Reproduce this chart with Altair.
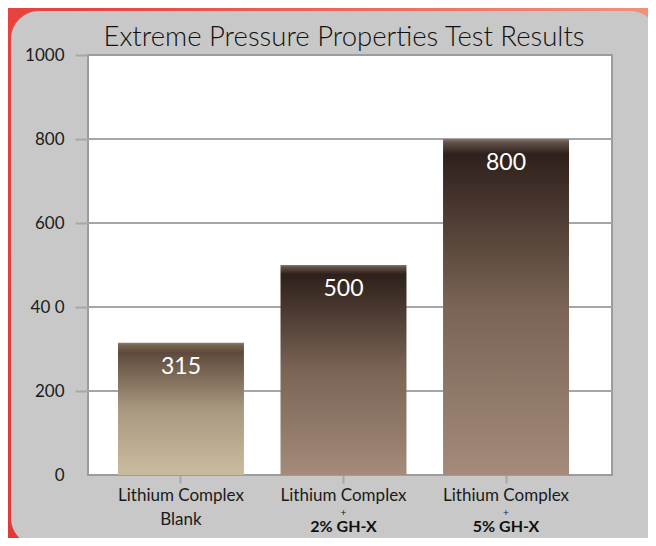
import altair as alt
import pandas as pd

# ---- data ----
categories = ["Lithium Complex Blank", "Lithium Complex + 2% GH-X", "Lithium Complex + 5% GH-X"]
values = [315, 500, 800]
line1 = ["Lithium Complex", "Lithium Complex", "Lithium Complex"]
line2 = ["Blank", "+", "+"]
line3 = ["", "2% GH-X", "5% GH-X"]
grid_values = [200, 400, 600, 800]
y_ticks = [0, 200, 400, 600, 800, 1000]
title_text = "Extreme Pressure Properties Test Results"

# ---- layout / style ----
W, H = 524, 420
PAD = {"left": 80, "top": 47, "right": 36, "bottom": 63}
FONT = "Lato"
GRID = "#a6a6a6"
TXT = "#1a1a1a"

df = pd.DataFrame({"cat": categories, "value": values, "l1": line1, "l2": line2, "l3": line3})
grid_df = pd.DataFrame({"value": grid_values})
one = pd.DataFrame({"a": [0]})

xscale = alt.Scale(domain=categories, range=[30, 481], paddingInner=0.225, paddingOuter=0)
yscale = alt.Scale(domain=[0, 1000], nice=False)

x_enc = alt.X("cat:N", scale=xscale, sort=categories,
              axis=alt.Axis(title=None, labels=False, domain=False, grid=False,
                            ticks=True, tickSize=8, tickWidth=2, tickColor=GRID, zindex=1))
y_enc = alt.Y("value:Q", scale=yscale,
              axis=alt.Axis(title=None, values=y_ticks, format="d",
                            labelExpr="datum.value == 400 ? '40 0' : datum.label",
                            domain=False, grid=False, tickSize=13, tickWidth=2,
                            tickColor={"condition": {"test": "datum.value === 0", "value": "transparent"},
                                       "value": GRID},
                            labelFont=FONT, labelFontSize=17, labelColor=TXT,
                            labelPadding=11, zindex=1))

def grad(stops, x1=0, y1=0, x2=0, y2=1):
    return alt.LinearGradient(gradient="linear", x1=x1, y1=y1, x2=x2, y2=y2,
                              stops=[alt.GradientStop(offset=o, color=c) for o, c in stops])

red_bg = alt.Chart(one).mark_rect(
    color=grad([(0, "#e23838"), (0.55, "#e8443f"), (1, "#f4907a")], x1=0, y1=1, x2=1, y2=0)
).encode(x=alt.value(-PAD["left"]), x2=alt.value(W + PAD["right"]),
         y=alt.value(-PAD["top"]), y2=alt.value(H + PAD["bottom"]))

panel = alt.Chart(one).mark_rect(color="#c8c8c8", cornerRadius=28).encode(
    x=alt.value(-PAD["left"] + 3), x2=alt.value(W + PAD["right"] + 10),
    y=alt.value(-PAD["top"] + 3), y2=alt.value(H + PAD["bottom"] + 8))

plot_bg = alt.Chart(one).mark_rect(color="white", stroke="#9c9c9c", strokeWidth=2).encode(
    x=alt.value(0), x2=alt.value(W), y=alt.value(0), y2=alt.value(H))

grid = alt.Chart(grid_df).mark_rule(color=GRID, strokeWidth=2).encode(y=y_enc)

bar1_grad = grad([(0, "#8e7e70"), (0.02, "#76634f"), (0.075, "#5e4a3c"),
                  (0.5, "#a89880"), (1, "#cbbb9e")])
bar23_grad = grad([(0, "#85756b"), (0.012, "#5e4e45"), (0.045, "#2e201b"),
                   (0.5, "#7a6455"), (1, "#a48b7b")])

bars1 = alt.Chart(df).transform_filter(alt.datum.cat == categories[0]).mark_bar(
    color=bar1_grad).encode(x=x_enc, y=y_enc)
bars23 = alt.Chart(df).transform_filter(alt.datum.cat != categories[0]).mark_bar(
    color=bar23_grad).encode(x=x_enc, y=y_enc)

vals = alt.Chart(df).mark_text(color="white", font=FONT, fontSize=23, baseline="alphabetic",
                               dy=31).encode(x=x_enc, y=y_enc, text=alt.Text("value:Q"))

lab1 = alt.Chart(df).mark_text(color=TXT, font=FONT, fontSize=17, baseline="middle").encode(
    x=x_enc, y=alt.value(H + 21), text="l1:N")
lab2a = alt.Chart(df).transform_filter(alt.datum.l2 == "Blank").mark_text(
    color=TXT, font=FONT, fontSize=17, baseline="middle").encode(
    x=x_enc, y=alt.value(H + 45), text="l2:N")
lab2b = alt.Chart(df).transform_filter(alt.datum.l2 == "+").mark_text(
    color=TXT, font=FONT, fontSize=10, baseline="middle").encode(
    x=x_enc, y=alt.value(H + 37.5), text="l2:N")
lab3 = alt.Chart(df).mark_text(color="#111111", font=FONT, fontSize=16, fontWeight="bold",
                               baseline="middle").encode(
    x=x_enc, y=alt.value(H + 52), text="l3:N")

title = alt.Chart(one).mark_text(text=title_text, font=FONT, fontSize=27.5, fontWeight=300,
                                 color="#111111", baseline="alphabetic").encode(
    x=alt.value(W / 2 - 6), y=alt.value(-9))

chart = alt.layer(red_bg, panel, plot_bg, grid, bars1, bars23, vals,
                  lab1, lab2a, lab2b, lab3, title).properties(
    width=W, height=H,
    autosize=alt.AutoSizeParams(type="none"),
    padding=PAD,
    background="white",
).configure_view(stroke=None)

chart.save("out.html", embed_options={"renderer": "svg", "actions": False})
